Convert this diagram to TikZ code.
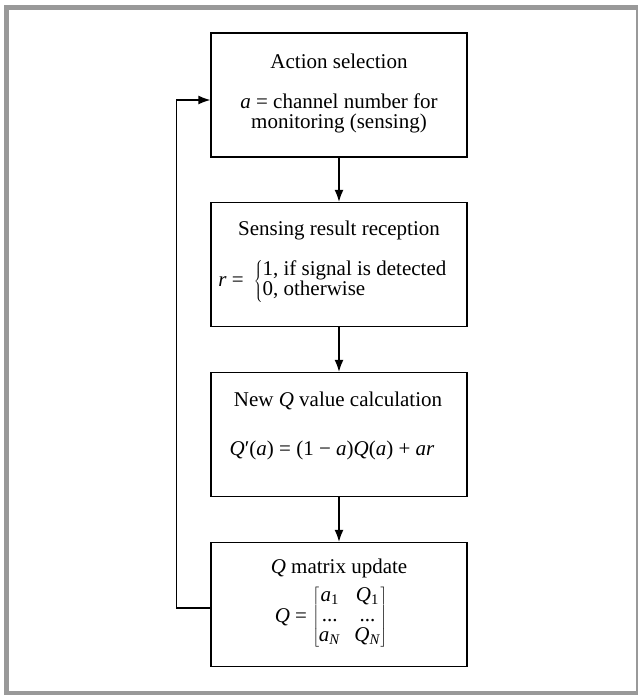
\documentclass[tikz,border=0pt]{standalone}
\usepackage{fontspec}
\setmainfont{Liberation Serif}
\usetikzlibrary{arrows.meta}

\newcommand{\vi}[1]{\textit{#1}}
\tikzset{etq/.style={font=\fontsize{21}{20}\selectfont, align=center, inner sep=0pt},
         caja/.style={draw, line width=1.3pt, minimum width=256pt, minimum height=124pt},
         flecha/.style={line width=1.3pt, -{Latex[length=12pt,width=9pt]}}}

\begin{document}
\begin{tikzpicture}[x=1pt, y=-1pt]
  \useasboundingbox (0,0) rectangle (637,695);
  \draw[black!40, line width=4.6pt] (6.2,7.5) rectangle (638.5,693);
  % boxes
  \node[caja] (b1) at (339,95) {};
  \node[caja] (b2) at (339,264.5) {};
  \node[caja] (b3) at (339,434.5) {};
  \node[caja] (b4) at (339,604.5) {};
  % texts
  \node[etq] (t1) at (339,61) {Action selection};
  \node[etq] (d1) at (339,113) {\vi{a} = channel number for\\monitoring (sensing)};
  \node[etq] (t2) at (339,230) {Sensing result reception};
  \node[etq] (d2) at (333,281) {\vi{r} =\hspace{10pt}$\left\{\begin{tabular}{@{}l@{}}1, if signal is detected\\0, otherwise\end{tabular}\right.$};
  \node[etq] (t3) at (338,401) {New \vi{Q} value calculation};
  \node[etq] (d3) at (332,450) {\vi{Q}′(\vi{a}) = (1 − \vi{a})\vi{Q}(\vi{a}) + \vi{ar}};
  \node[etq] (t4) at (339,568) {\vi{Q} matrix update};
  \node[etq] (d4) at (331,617) {\vi{Q} = $\left[\renewcommand{\arraystretch}{1.0}\begin{tabular}{@{}c@{\hspace{14pt}}c@{}}\vi{a}\textsubscript{1} & \vi{Q}\textsubscript{1}\\... & ...\\\vi{a}\textsubscript{\vi{N}} & \vi{Q}\textsubscript{\vi{N}}\end{tabular}\right]$};
  % arrows
  \draw[flecha] (b1) -- (b2);
  \draw[flecha] (b2) -- (b3);
  \draw[flecha] (b3) -- (b4);
  \draw[flecha] ([yshift=-3.5pt]b4.west) -| ([xshift=-34pt,yshift=-5pt]b1.west) -- ([yshift=-5pt]b1.west);
\end{tikzpicture}
\end{document}
